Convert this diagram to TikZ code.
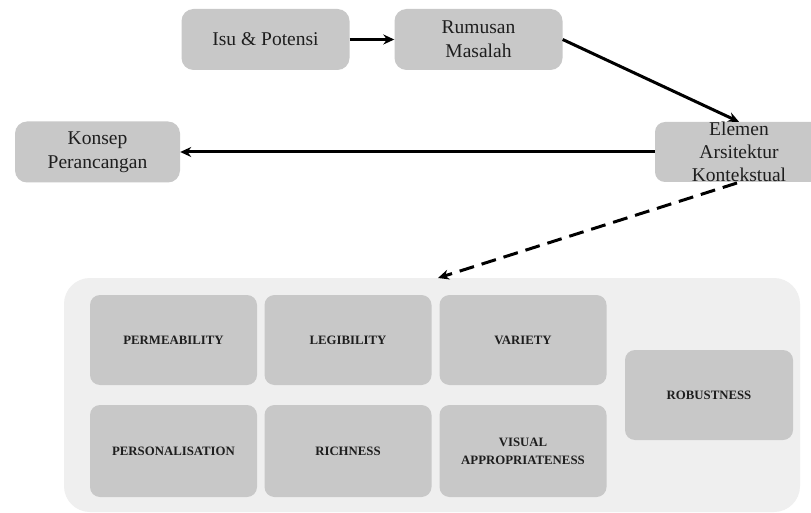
\documentclass[tikz,border=0pt]{standalone}
\usepackage{fontspec}
\setmainfont{Liberation Serif}
\usetikzlibrary{arrows.meta}
\definecolor{boxgray}{HTML}{C8C8C8}
\definecolor{contgray}{HTML}{EFEFEF}
\definecolor{txt}{HTML}{1E1E1E}
\begin{document}
\begin{tikzpicture}[x=1pt,y=-1pt,
  topbox/.style={fill=boxgray,draw=none,rounded corners=12pt,minimum width=168pt,minimum height=61pt,
    text=txt,align=center,inner sep=0pt,font=\fontsize{19.5}{24}\selectfont},
  elembox/.style={fill=boxgray,draw=none,rounded corners=10pt,minimum width=167pt,minimum height=90pt,
    text=txt,align=center,inner sep=0pt,font=\fontsize{12.8}{18}\selectfont\bfseries},
  conn/.style={line width=3pt,-{Stealth[length=11pt,width=10pt]}},
  dconn/.style={line width=3pt,dash pattern=on 15pt off 8pt,-{Stealth[length=11pt,width=10pt]}}
]
\useasboundingbox (0,0) rectangle (811,513);
\fill[white] (0,0) rectangle (811,513);
% container
\node[fill=contgray,rounded corners=26pt,minimum width=736pt,minimum height=234pt,inner sep=0pt] (cont) at (432,395) {};
% top boxes
\node[topbox] (isu) at (265.5,39.5) {Isu \& Potensi};
\node[topbox] (rum) at (478.5,39.5) {Rumusan\\Masalah};
\node[topbox,minimum width=165pt] (kon) at (97.5,152) {Konsep\\Perancangan};
\node[topbox,minimum height=60pt,rounded corners=10pt,font=\fontsize{19.5}{23}\selectfont] (ele) at (739,152) {Elemen\\Arsitektur\\Kontekstual};
% inner boxes
\node[elembox] (perm) at (173.5,340) {PERMEABILITY};
\node[elembox] (leg) at (348,340) {LEGIBILITY};
\node[elembox] (var) at (523,340) {VARIETY};
\node[elembox,minimum height=92pt] (pers) at (173.5,451) {PERSONALISATION};
\node[elembox,minimum height=92pt] (rich) at (348,451) {RICHNESS};
\node[elembox,minimum height=92pt] (vis) at (523,451) {VISUAL\\APPROPRIATENESS};
\node[elembox,minimum width=168pt] (rob) at (709,395) {ROBUSTNESS};
% connectors
\draw[conn] (isu.east) -- (rum.west);
\draw[conn] (rum.east) -- (ele.north);
\draw[conn] (ele.west) -- (kon.east);
\coordinate (dstart) at (737,183);
\coordinate (dend) at (438,278);
\draw[dconn] (dstart) -- (dend);
\end{tikzpicture}
\end{document}
